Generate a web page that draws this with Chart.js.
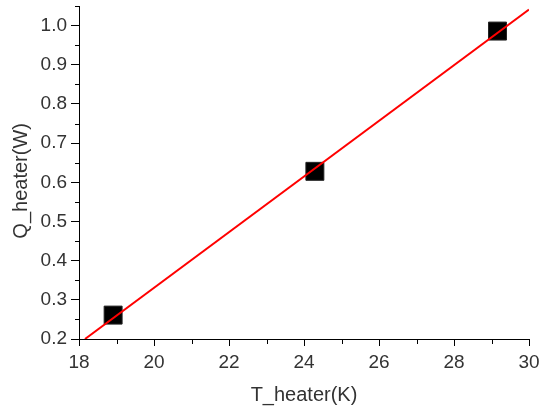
<!DOCTYPE html>
<html>
<head>
<meta charset="utf-8">
<script src="https://cdn.jsdelivr.net/npm/chart.js@4.4.1/dist/chart.umd.min.js"></script>
<style>
  html, body { margin: 0; padding: 0; background: #fff; }
  #wrap { width: 542px; height: 407px; }
</style>
</head>
<body>
<div id="wrap"><canvas id="myChart"></canvas></div>
<script>
// measured points
const tempK = [18.91, 24.29, 29.16];
const heatW = [0.261, 0.628, 0.986];
// linear fit line ends
const fitT = [18.16, 30];
const fitQ = [0.2, 1.041];
// axis ticks
const xTicks = [18, 20, 22, 24, 26, 28, 30];
const xMinor = [19, 21, 23, 25, 27, 29];
const yTicks = [0.2, 0.3, 0.4, 0.5, 0.6, 0.7, 0.8, 0.9, 1.0];
const yMinor = [0.25, 0.35, 0.45, 0.55, 0.65, 0.75, 0.85, 0.95, 1.05];

const FONT = "'Liberation Sans', 'DejaVu Sans', sans-serif";

// short minor ticks drawn outside the axes
const minorTicks = {
  id: "minorTicks",
  afterDraw(chart) {
    const c = chart.ctx;
    const xs = chart.scales.x, ys = chart.scales.y;
    c.save();
    c.strokeStyle = "#000";
    c.lineWidth = 1;
    c.beginPath();
    xMinor.forEach((v) => {
      const px = Math.round(xs.getPixelForValue(v)) + 0.5;
      c.moveTo(px, xs.top);
      c.lineTo(px, xs.top + 5);
    });
    yMinor.forEach((v) => {
      const py = Math.round(ys.getPixelForValue(v)) + 0.5;
      c.moveTo(ys.right, py);
      c.lineTo(ys.right - 4, py);
    });
    c.stroke();
    c.restore();
  },
};

const ctx = document.getElementById("myChart");
const myChart = new Chart(ctx, {
  type: "scatter",
  data: {
    datasets: [
      {
        label: "fit",
        type: "line",
        data: fitT.map((t, i) => ({ x: t, y: fitQ[i] })),
        borderColor: "#ff0000",
        borderWidth: 2,
        pointRadius: 0,
        fill: false,
        order: 0,
      },
      {
        label: "Q_heater",
        data: tempK.map((t, i) => ({ x: t, y: heatW[i] })),
        pointStyle: "rect",
        pointRadius: 12.7,
        pointHoverRadius: 12.7,
        backgroundColor: "#000",
        borderColor: "#222",
        borderWidth: 1,
        order: 1,
      },
    ],
  },
  options: {
    responsive: true,
    maintainAspectRatio: false,
    animation: false,
    layout: {
      autoPadding: false,
      padding: { top: 6, right: 13, left: 0, bottom: 0 },
    },
    plugins: {
      legend: { display: false },
      tooltip: { enabled: false },
    },
    scales: {
      x: {
        type: "linear",
        min: 18,
        max: 30,
        afterBuildTicks: (scale) => {
          scale.ticks = xTicks.map((v) => ({ value: v }));
        },
        afterFit: (scale) => {
          scale.height = 68;
          scale.paddingLeft = 0;
          scale.paddingRight = 0;
        },
        border: { color: "#000", width: 1 },
        grid: { drawOnChartArea: false, tickLength: 7, tickColor: "#000" },
        ticks: {
          color: "#333",
          padding: 5,
          font: { family: FONT, size: 19 },
          callback: (v) => String(v),
        },
        title: {
          display: true,
          text: "T_heater(K)",
          color: "#333",
          padding: { top: 0, bottom: 0 },
          font: { family: FONT, size: 20 },
        },
      },
      y: {
        type: "linear",
        min: 0.2,
        max: 1.05,
        afterBuildTicks: (scale) => {
          scale.ticks = yTicks.map((v) => ({ value: v }));
        },
        afterFit: (scale) => {
          scale.width = 79;
          scale.paddingTop = 0;
          scale.paddingBottom = 0;
        },
        border: { color: "#000", width: 1 },
        grid: { drawOnChartArea: false, tickLength: 8, tickColor: "#000" },
        ticks: {
          color: "#333",
          padding: 4,
          font: { family: FONT, size: 19 },
          callback: (v) => Number(v).toFixed(1),
        },
        title: {
          display: true,
          // trailing spaces nudge the title a little below the axis middle
          text: "Q_heater(W)   ",
          color: "#333",
          padding: { top: 9, bottom: 0 },
          font: { family: FONT, size: 20 },
        },
      },
    },
  },
  plugins: [minorTicks],
});
</script>
</body>
</html>
